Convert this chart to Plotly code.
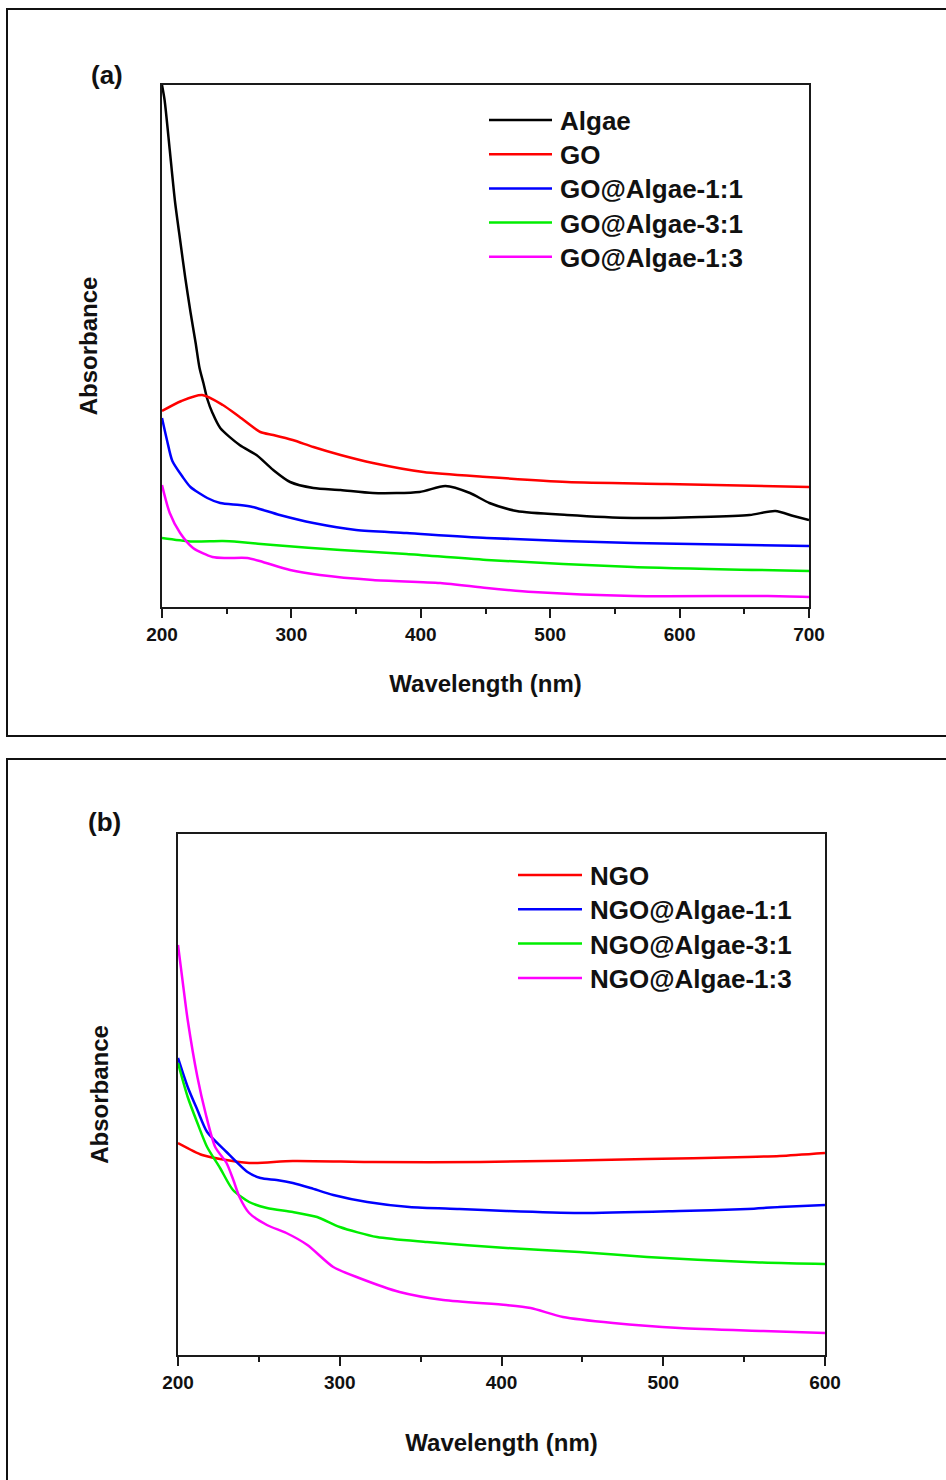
import plotly.graph_objects as go

# ---------------- Data: panel (a) ----------------
algae_wl = [200, 202, 206, 210, 214, 218, 222, 226, 229, 232, 235, 239, 245, 260, 273, 286, 299, 317, 338, 363, 399, 419, 438, 453, 474, 513, 564, 616, 654, 674, 688, 700]
algae_abs = [2.61, 2.535, 2.285, 2.03, 1.835, 1.645, 1.475, 1.32, 1.195, 1.12, 1.04, 0.97, 0.895, 0.81, 0.76, 0.685, 0.625, 0.595, 0.585, 0.57, 0.575, 0.605, 0.57, 0.52, 0.48, 0.46, 0.445, 0.45, 0.46, 0.48, 0.455, 0.435]

go_wl = [200, 215, 231, 247, 260, 276, 286, 301, 317, 338, 363, 402, 451, 513, 590, 700]
go_abs = [0.98, 1.03, 1.06, 1.01, 0.95, 0.875, 0.86, 0.835, 0.80, 0.76, 0.72, 0.675, 0.65, 0.625, 0.615, 0.60]

ga11_wl = [200, 204, 208, 216, 222, 235, 245, 260, 270, 291, 317, 350, 389, 451, 564, 700]
ga11_abs = [0.945, 0.83, 0.73, 0.65, 0.6, 0.545, 0.52, 0.51, 0.50, 0.46, 0.42, 0.385, 0.37, 0.345, 0.32, 0.305]

ga31_wl = [200, 222, 247, 260, 286, 338, 389, 451, 564, 700]
ga31_abs = [0.345, 0.328, 0.33, 0.325, 0.31, 0.285, 0.265, 0.235, 0.20, 0.18]

ga13_wl = [200, 206, 214, 224, 239, 250, 266, 278, 299, 322, 363, 415, 451, 487, 564, 668, 700]
ga13_abs = [0.61, 0.47, 0.37, 0.295, 0.25, 0.245, 0.245, 0.225, 0.185, 0.16, 0.135, 0.12, 0.095, 0.075, 0.055, 0.055, 0.05]

# ---------------- Data: panel (b) ----------------
ngo_wl = [200, 215, 226, 244, 271, 320, 387, 490, 552, 572, 600]
ngo_abs = [1.06, 1.0, 0.98, 0.96, 0.97, 0.965, 0.965, 0.98, 0.99, 0.995, 1.01]

nga11_wl = [200, 206, 212, 218, 230, 243, 251, 261, 271, 282, 296, 317, 343, 374, 403, 448, 510, 552, 572, 600]
nga11_abs = [1.485, 1.34, 1.225, 1.115, 1.015, 0.915, 0.885, 0.875, 0.86, 0.835, 0.80, 0.765, 0.74, 0.73, 0.72, 0.71, 0.72, 0.73, 0.74, 0.75]

nga31_wl = [200, 206, 212, 218, 226, 234, 244, 255, 271, 286, 300, 323, 354, 403, 448, 490, 552, 600]
nga31_abs = [1.46, 1.29, 1.16, 1.04, 0.935, 0.825, 0.765, 0.735, 0.715, 0.69, 0.64, 0.59, 0.565, 0.535, 0.515, 0.49, 0.465, 0.455]

nga13_wl = [200, 203, 206, 212, 217, 223, 230, 234, 238, 244, 255, 267, 280, 296, 312, 337, 364, 403, 418, 438, 469, 510, 562, 600]
nga13_abs = [2.05, 1.86, 1.675, 1.39, 1.21, 1.04, 0.96, 0.88, 0.79, 0.71, 0.65, 0.61, 0.55, 0.44, 0.385, 0.315, 0.275, 0.25, 0.235, 0.19, 0.16, 0.135, 0.12, 0.11]

ticks_a = [200, 300, 400, 500, 600, 700]
ticks_b = [200, 300, 400, 500, 600]

series_a = [
    ("Algae", algae_wl, algae_abs, "#000000"),
    ("GO", go_wl, go_abs, "#ff0000"),
    ("GO@Algae-1:1", ga11_wl, ga11_abs, "#0000ff"),
    ("GO@Algae-3:1", ga31_wl, ga31_abs, "#00ee00"),
    ("GO@Algae-1:3", ga13_wl, ga13_abs, "#ff00ff"),
]
series_b = [
    ("NGO", ngo_wl, ngo_abs, "#ff0000"),
    ("NGO@Algae-1:1", nga11_wl, nga11_abs, "#0000ff"),
    ("NGO@Algae-3:1", nga31_wl, nga31_abs, "#00ee00"),
    ("NGO@Algae-1:3", nga13_wl, nga13_abs, "#ff00ff"),
]

W, H = 946, 1480
FONT = "Liberation Sans, Arial, sans-serif"


def px(x):
    return x / W


def py(y):
    return 1 - y / H


fig = go.Figure()
for name, xs, ys, c in series_a:
    fig.add_trace(go.Scatter(x=xs, y=ys, mode="lines", name=name, showlegend=False,
                             line=dict(color=c, width=2.5, shape="spline", smoothing=0.7),
                             xaxis="x", yaxis="y"))
for name, xs, ys, c in series_b:
    fig.add_trace(go.Scatter(x=xs, y=ys, mode="lines", name=name, showlegend=False,
                             line=dict(color=c, width=2.5, shape="spline", smoothing=0.7),
                             xaxis="x2", yaxis="y2"))

axis_common = dict(showline=True, mirror=True, linecolor="#1a1a1a", linewidth=2,
                   showgrid=False, zeroline=False, automargin=False)
xfont = dict(family=FONT, size=19, color="#111", weight="bold")
tfont = dict(family=FONT, size=24, color="#111", weight="bold")

fig.update_layout(
    template="none",
    width=W, height=H, margin=dict(l=0, r=0, t=0, b=0, pad=0, autoexpand=False),
    paper_bgcolor="white", plot_bgcolor="white", showlegend=False,
    xaxis=dict(domain=[px(162), px(809)], range=[200, 700], anchor="y",
               tickvals=ticks_a, ticks="outside", ticklen=9, tickwidth=2, tickcolor="#1a1a1a",
               minor=dict(dtick=50, ticks="outside", ticklen=5, tickwidth=2, tickcolor="#1a1a1a"),
               tickfont=xfont, title=dict(text="Wavelength (nm)", font=tfont, standoff=31),
               **axis_common),
    yaxis=dict(domain=[py(607), py(85)], range=[0, 2.61], anchor="x",
               showticklabels=False, ticks="",
               title=dict(text="Absorbance", font=tfont, standoff=56), **axis_common),
    xaxis2=dict(domain=[px(178), px(825)], range=[200, 600], anchor="y2",
                tickvals=ticks_b, ticks="outside", ticklen=9, tickwidth=2, tickcolor="#1a1a1a",
                minor=dict(dtick=50, ticks="outside", ticklen=5, tickwidth=2, tickcolor="#1a1a1a"),
                tickfont=xfont, title=dict(text="Wavelength (nm)", font=tfont, standoff=42),
                **axis_common),
    yaxis2=dict(domain=[py(1355), py(834)], range=[0, 2.605], anchor="x2",
                showticklabels=False, ticks="",
                title=dict(text="Absorbance", font=tfont, standoff=61), **axis_common),
)

shapes = [
    dict(type="rect", xref="paper", yref="paper", x0=px(7), x1=1.05, y0=py(736), y1=py(9),
         line=dict(color="#111", width=2)),
    dict(type="rect", xref="paper", yref="paper", x0=px(7), x1=1.05, y0=-0.05, y1=py(759),
         line=dict(color="#111", width=2)),
]
annotations = [
    dict(text="(a)", x=px(107), y=py(75), xref="paper", yref="paper", showarrow=False,
         font=dict(family=FONT, size=26, color="#111", weight="bold"), xanchor="center", yanchor="middle"),
    dict(text="(b)", x=px(104), y=py(822), xref="paper", yref="paper", showarrow=False,
         font=dict(family=FONT, size=26, color="#111", weight="bold"), xanchor="center", yanchor="middle"),
]

lfont = dict(family=FONT, size=26, color="#111", weight="bold")
for i, (name, _, _, c) in enumerate(series_a):
    yy = 120 + i * 34.2
    shapes.append(dict(type="line", xref="paper", yref="paper", x0=px(489), x1=px(552),
                       y0=py(yy), y1=py(yy), line=dict(color=c, width=2.5)))
    annotations.append(dict(text=name, x=px(558), y=py(yy + 1), xref="paper", yref="paper",
                            showarrow=False, xanchor="left", yanchor="middle", font=lfont))
for i, (name, _, _, c) in enumerate(series_b):
    yy = 875 + i * 34.3
    shapes.append(dict(type="line", xref="paper", yref="paper", x0=px(518), x1=px(582),
                       y0=py(yy), y1=py(yy), line=dict(color=c, width=2.5)))
    annotations.append(dict(text=name, x=px(588), y=py(yy + 1), xref="paper", yref="paper",
                            showarrow=False, xanchor="left", yanchor="middle", font=lfont))

fig.update_layout(shapes=shapes, annotations=annotations)
fig.write_html("out.html")
